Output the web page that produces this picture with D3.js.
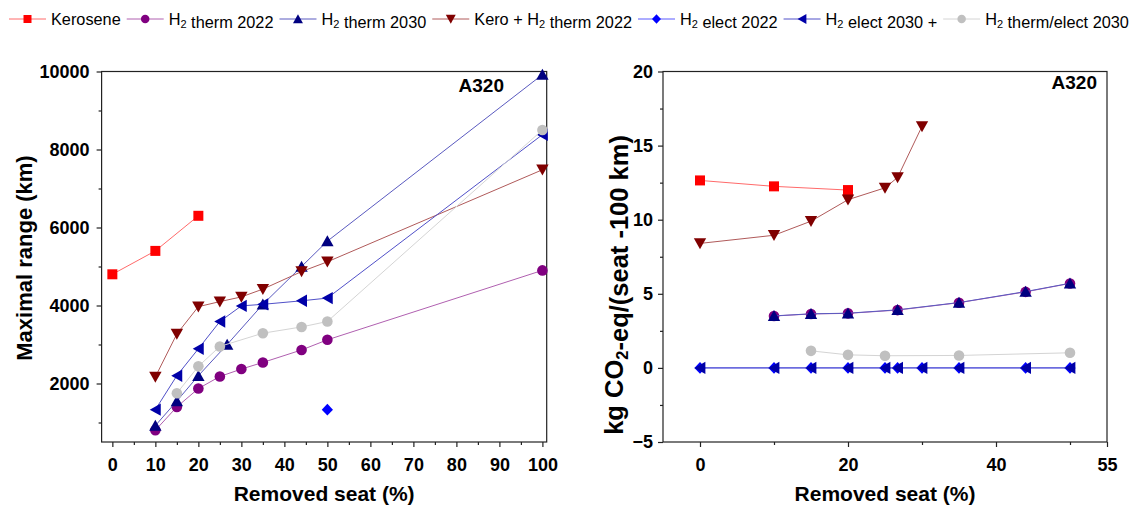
<!DOCTYPE html>
<html>
<head>
<meta charset="utf-8">
<script src="https://cdn.jsdelivr.net/npm/d3@7"></script>
<style>
body{margin:0;background:#fff;}
svg{display:block;font-family:"Liberation Sans",Arial,sans-serif;}
</style>
</head>
<body>
<svg id="chart" width="1143" height="508"></svg>
<script>
// legend / series names, in drawing order
const seriesLabels = ["Kerosene","H2 therm 2022","H2 therm 2030","Kero + H2 therm 2022","H2 elect 2022","H2 elect 2030 +","H2 therm/elect 2030"];

// left panel: maximal range (km) against removed seat (%)
const keroRangeSeat = [0,10,20];
const keroRange = [4800,5400,6300];
const therm22RangeSeat = [10,15,20,25,30,35,44,50,100];
const therm22Range = [800,1400,1870,2180,2370,2540,2860,3120,4900];
const therm30RangeSeat = [10,15,20,26.7,35,44,50,100];
const therm30Range = [920,1550,2200,3000,4030,5000,5650,9920];
const keroThermRangeSeat = [10,15,20,25,30,35,44,50,100];
const keroThermRange = [2170,3270,3970,4100,4220,4420,4870,5120,7480];
const elect22RangeSeat = [50];
const elect22Range = [1330];
const elect30RangeSeat = [10,15,20,25,30,35,44,50,100];
const elect30Range = [1330,2200,2890,3590,3990,4030,4120,4190,8380];
const thermElectRangeSeat = [15,20,25,35,44,50,100];
const thermElectRange = [1750,2440,2950,3290,3450,3590,8500];

// right panel: kg CO2-eq per seat and 100 km against removed seat (%)
const keroCo2Seat = [0,10,20];
const keroCo2 = [12.65,12.25,12.0];
const therm22Co2Seat = [10,15,20,26.7,35,44,50];
const therm22Co2 = [3.5,3.64,3.68,3.9,4.4,5.13,5.7];
const therm30Co2Seat = [10,15,20,26.7,35,44,50];
const therm30Co2 = [3.51,3.65,3.69,3.92,4.41,5.15,5.71];
const keroThermCo2Seat = [0,10,15,20,25,26.7,30];
const keroThermCo2 = [8.4,8.95,9.9,11.35,12.15,12.85,16.3];
const elect22Co2Seat = [0,10,15,20,25,26.7,30,35,44,50];
const elect22Co2 = [0,0,0,0,0,0,0,0,0,0];
const elect30Co2Seat = [0,10,15,20,25,26.7,30,35,44,50];
const elect30Co2 = [0,0,0,0,0,0,0,0,0,0];
const thermElectCo2Seat = [15,20,25,35,50];
const thermElectCo2 = [1.15,0.88,0.82,0.84,1.02];

// axis ticks
const rangeSeatTicks = [0,10,20,30,40,50,60,70,80,90,100];
const rangeSeatMinor = [5,15,25,35,45,55,65,75,85,95];
const rangeTicks = [2000,4000,6000,8000,10000];
const rangeMinor = [1000,3000,5000,7000,9000];
const co2SeatTicks = [0,20,40,55];
const co2SeatMinor = [10,30,50];
const co2Ticks = [-5,0,5,10,15,20];
const co2Minor = [-2.5,2.5,7.5,12.5,17.5];

// styles
const colors = ["#ff0000","#800080","#000080","#800000","#0000ff","#0000a8","#c0c0c0"];
const lineColors = ["#ff6a6a","#b060b0","#5a5ac0","#b05a5a","#5a5aff","#5050c8","#d4d4d4"];
const shapes = ["square","circle","up","down","diamond","left","circle"];

const svg = d3.select("#chart");

function symbolPath(shape, k){
    const p = d3.path();
    if(shape==="square"){ p.rect(-5*k,-5*k,10*k,10*k); }
    else if(shape==="circle"){ p.arc(0,0,5.3*k,0,2*Math.PI); }
    else if(shape==="up"){ p.moveTo(0,-5.8*k); p.lineTo(6.2*k,5.2*k); p.lineTo(-6.2*k,5.2*k); p.closePath(); }
    else if(shape==="down"){ p.moveTo(0,5.8*k); p.lineTo(6.2*k,-5.2*k); p.lineTo(-6.2*k,-5.2*k); p.closePath(); }
    else if(shape==="diamond"){ p.moveTo(0,-5.8*k); p.lineTo(5.6*k,0); p.lineTo(0,5.8*k); p.lineTo(-5.6*k,0); p.closePath(); }
    else if(shape==="left"){ p.moveTo(-5.6*k,0); p.lineTo(5.4*k,-6.2*k); p.lineTo(5.4*k,6.2*k); p.closePath(); }
    return p.toString();
}

// text with "H2" / "CO2" subscripts
function richText(sel, str, subSize){
    const parts = str.split(/(?<=H|CO)2/);
    parts.forEach((part,i)=>{
        sel.append("tspan").text(part);
        if(i<parts.length-1){
            sel.append("tspan").attr("dy","0.3em").attr("font-size",subSize).text("2");
            sel.append("tspan").attr("dy","-0.3em").text("");
        }
    });
}

function drawPanel(cfg){
    const x = d3.scaleLinear().domain(cfg.xDom).range([cfg.left,cfg.right]);
    const y = d3.scaleLinear().domain(cfg.yDom).range([cfg.bottom,cfg.top]);
    const g = svg.append("g");

    const xAxis = g.append("g").attr("transform",`translate(0,${cfg.bottom})`)
        .call(d3.axisBottom(x).tickValues(cfg.xTicks).tickSize(5).tickPadding(11).tickFormat(d3.format("d")));
    const xMinor = g.append("g").attr("transform",`translate(0,${cfg.bottom})`)
        .call(d3.axisBottom(x).tickValues(cfg.xMinor).tickSize(3).tickFormat(""));
    const yAxis = g.append("g").attr("transform",`translate(${cfg.left},0)`)
        .call(d3.axisLeft(y).tickValues(cfg.yTicks).tickSize(5).tickPadding(cfg.yPad).tickFormat(d3.format("d")));
    const yMinor = g.append("g").attr("transform",`translate(${cfg.left},0)`)
        .call(d3.axisLeft(y).tickValues(cfg.yMinor).tickSize(3).tickFormat(""));
    [xAxis,xMinor,yAxis,yMinor].forEach(a=>{
        a.select(".domain").remove();
        a.selectAll("line").attr("stroke","#222").attr("stroke-width",1.2);
        a.selectAll("text").attr("font-size",18).attr("font-weight","bold").attr("fill","#000")
            .attr("font-family","'Liberation Sans',Arial,sans-serif");
    });

    g.append("rect")
        .attr("x",cfg.left).attr("y",cfg.top)
        .attr("width",cfg.right-cfg.left).attr("height",cfg.bottom-cfg.top)
        .attr("fill","none").attr("stroke","#222").attr("stroke-width",1.2);

    const line = d3.line().x(d=>x(d[0])).y(d=>y(d[1]));
    cfg.series.forEach((s,i)=>{
        const pts = d3.zip(s[0],s[1]);
        g.append("path").datum(pts)
            .attr("d",line)
            .attr("fill","none")
            .attr("stroke",lineColors[i])
            .attr("stroke-width",1);
        g.selectAll(null).data(pts).enter().append("path")
            .attr("transform",d=>`translate(${x(d[0])},${y(d[1])})`)
            .attr("d",symbolPath(shapes[i],1))
            .attr("fill",colors[i]);
    });

    g.append("text")
        .attr("x",cfg.tagX).attr("y",cfg.tagY)
        .attr("text-anchor","end")
        .attr("font-size",19).attr("font-weight","bold")
        .text("A320");

    g.append("text")
        .attr("x",(cfg.left+cfg.right)/2).attr("y",501)
        .attr("text-anchor","middle")
        .attr("font-size",21).attr("font-weight","bold")
        .text("Removed seat (%)");

    const yt = g.append("text")
        .attr("transform",`translate(${cfg.yTitleX},${cfg.yTitleY}) rotate(-90)`)
        .attr("text-anchor","middle")
        .attr("font-size",cfg.yTitleSize).attr("font-weight","bold");
    richText(yt, cfg.yTitle, cfg.yTitleSize*0.65);
}

drawPanel({
    left:101.6, right:546.7, top:71.5, bottom:442,
    xDom:[-2.5,101], yDom:[500,10000],
    xTicks:rangeSeatTicks, xMinor:rangeSeatMinor,
    yTicks:rangeTicks, yMinor:rangeMinor, yPad:7,
    series:[
        [keroRangeSeat,keroRange],
        [therm22RangeSeat,therm22Range],
        [therm30RangeSeat,therm30Range],
        [keroThermRangeSeat,keroThermRange],
        [elect22RangeSeat,elect22Range],
        [elect30RangeSeat,elect30Range],
        [thermElectRangeSeat,thermElectRange]
    ],
    tagX:504, tagY:91.5,
    yTitle:"Maximal range (km)", yTitleX:32, yTitleY:258, yTitleSize:22
});

drawPanel({
    left:663, right:1107, top:71.5, bottom:442,
    xDom:[-5,55], yDom:[-5,20],
    xTicks:co2SeatTicks, xMinor:co2SeatMinor,
    yTicks:co2Ticks, yMinor:co2Minor, yPad:5,
    series:[
        [keroCo2Seat,keroCo2],
        [therm22Co2Seat,therm22Co2],
        [therm30Co2Seat,therm30Co2],
        [keroThermCo2Seat,keroThermCo2],
        [elect22Co2Seat,elect22Co2],
        [elect30Co2Seat,elect30Co2],
        [thermElectCo2Seat,thermElectCo2]
    ],
    tagX:1097, tagY:88.5,
    yTitle:"kg CO2-eq/(seat -100 km)", yTitleX:623, yTitleY:285, yTitleSize:25.5
});

// legend across the top, laid out from the measured text widths
const legend = svg.append("g");
let lx = 9;
seriesLabels.forEach((label,i)=>{
    const item = legend.append("g");
    item.append("line")
        .attr("x1",lx).attr("x2",lx+37).attr("y1",19).attr("y2",19)
        .attr("stroke",lineColors[i]).attr("stroke-width",1);
    item.append("path")
        .attr("transform",`translate(${lx+18.5},19)`)
        .attr("d",symbolPath(shapes[i],0.8))
        .attr("fill",colors[i]);
    const t = item.append("text")
        .attr("x",lx+42).attr("y",25)
        .attr("font-size",16.3);
    richText(t,label,11);
    lx += 42 + t.node().getComputedTextLength() + 6;
});
</script>
</body>
</html>
